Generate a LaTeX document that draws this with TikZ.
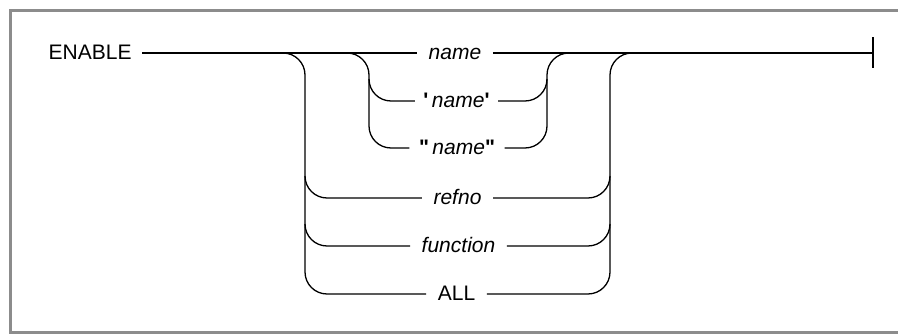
\documentclass[tikz,border=0pt]{standalone}
\usepackage{fontspec}
\setmainfont{Liberation Sans}
\newfontfamily\quotefont{Liberation Sans}[Ligatures=TeXOff]
\newcommand{\qmark}[1]{{\quotefont\bfseries #1}}
\begin{document}
\begin{tikzpicture}[x=1pt, y=-1pt, line width=1.3pt, font=\fontsize{21}{25}\selectfont]
      \tikzset{word/.style={inner xsep=11pt, inner ysep=0pt, text height=15pt, text depth=2pt},
               rail/.style={rounded corners=22pt},
               frame/.style={draw=black!45, line width=3pt}}
      \useasboundingbox (0,0) rectangle (898,336);
      \draw[frame] (898,11) -- (10,11) -- (10,333) -- (898,333);
      \node[word, anchor=west, inner xsep=10pt] (enable) at (38,53) {ENABLE};
      \node[word] (name) at (455,53) {\itshape name};
      \node[word, inner xsep=8pt] (sqname) at (456.5,101) {\qmark{'}\,\textit{name}\qmark{'}};
      \node[word, inner xsep=9pt] (dqname) at (457,148) {\qmark{"}\,\textit{name}\qmark{"}};
      \node[word] (refno) at (457.5,198) {\itshape refno};
      \node[word] (func) at (458.5,246) {\itshape function};
      \node[word] (all) at (456.5,294) {ALL};
      \coordinate (stop) at (873,53);
      \draw (enable) -- (name);
      \draw (name) -- (stop);
      \draw (873,37.5) -- (873,68.5);
      % outer choice
      \draw[rail] (283,53) -- (305,53) -- (305,294) -- (all);
      \draw[rail] (305,176) -- (305,198) -- (refno);
      \draw[rail] (305,224) -- (305,246) -- (func);
      \draw[rail] (all) -- (610,294) -- (610,53) -- (632,53);
      \draw[rail] (refno) -- (610,198) -- (610,176);
      \draw[rail] (func) -- (610,246) -- (610,224);
      % quoted names
      \draw[rail] (347,53) -- (369,53) -- (369,148) -- (dqname);
      \draw[rail] (369,79) -- (369,101) -- (sqname);
      \draw[rail] (dqname) -- (547,148) -- (547,53) -- (569,53);
      \draw[rail] (sqname) -- (547,101) -- (547,79);
    \end{tikzpicture}
\end{document}
